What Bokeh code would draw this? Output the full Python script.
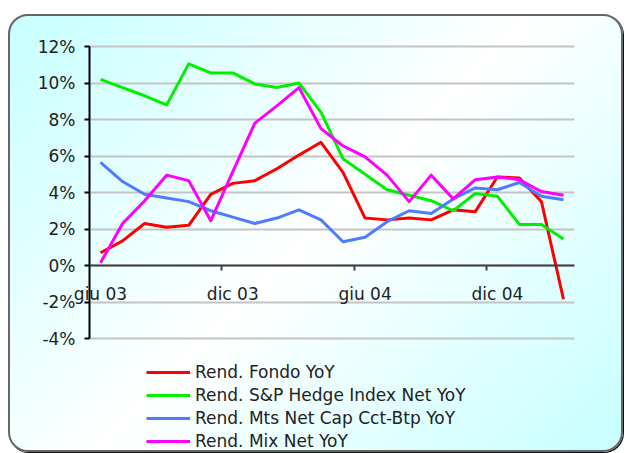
from bokeh.plotting import figure
from bokeh.models import Range1d, LinearAxis, FixedTicker, PrintfTickFormatter, Legend, LegendItem
from bokeh.embed import file_html
from bokeh.resources import INLINE

# ---- data ----
months = ["giu 03", "lug 03", "ago 03", "set 03", "ott 03", "nov 03", "dic 03",
          "gen 04", "feb 04", "mar 04", "apr 04", "mag 04", "giu 04", "lug 04",
          "ago 04", "set 04", "ott 04", "nov 04", "dic 04", "gen 05", "feb 05", "mar 05"]
fondo = [0.7, 1.35, 2.3, 2.1, 2.2, 3.9, 4.5, 4.65, 5.3, 6.05, 6.75, 5.1,
         2.6, 2.5, 2.6, 2.5, 3.05, 2.95, 4.85, 4.8, 3.5, -1.85]
hedge = [10.2, 9.75, 9.3, 8.8, 11.05, 10.55, 10.55, 9.95, 9.75, 10.0, 8.4, 5.85,
         5.0, 4.15, 3.85, 3.55, 3.0, 3.95, 3.8, 2.25, 2.25, 1.45]
mts = [5.65, 4.6, 3.9, 3.7, 3.5, 3.0, 2.65, 2.3, 2.6, 3.05, 2.5, 1.3,
       1.55, 2.4, 3.0, 2.85, 3.65, 4.25, 4.15, 4.55, 3.8, 3.6]
mix = [0.15, 2.3, 3.55, 4.95, 4.65, 2.45, 5.15, 7.8, 8.75, 9.75, 7.5, 6.55,
       5.95, 4.95, 3.5, 4.95, 3.65, 4.7, 4.85, 4.7, 4.05, 3.85]
series_names = ["Rend. Fondo YoY", "Rend. S&P Hedge Index Net YoY",
                "Rend. Mts Net Cap Cct-Btp YoY", "Rend. Mix Net YoY"]
series_colors = ["#ff0000", "#00f000", "#4f7bff", "#ff00ff"]
x_label_idx = [0, 6, 12, 18]
x_labels = ["giu 03", "dic 03", "giu 04", "dic 04"]
y_ticks = [-4, -2, 0, 2, 4, 6, 8, 10, 12]
y_min, y_max = -4, 12

x = list(range(len(months)))
x_lo, x_hi = -0.5, len(months) - 0.5
FONT = "DejaVu Sans"

# ---- layout (pixels) ----
W, H = 611, 434                  # inner canvas of the rounded box
PL, PR, PT, PB = 79, 47, 30, 112  # plot area offsets inside the box
pw, ph = W - PL - PR, H - PT - PB
ux = (x_hi - x_lo) / pw
uy = (y_max - y_min) / ph

p = figure(frame_width=W, frame_height=H,
           min_border=0,
           x_range=Range1d(x_lo - PL * ux, x_hi + PR * ux),
           y_range=Range1d(y_min - PB * uy, y_max + PT * uy),
           output_backend="svg", toolbar_location=None,
           background_fill_color=None, border_fill_color=None, outline_line_color=None,
           x_axis_type=None, y_axis_type=None)
p.xgrid.visible = False
p.ygrid.visible = False
p.styles = {
    "margin-top": "14px",
    "margin-left": "8px",
    "border": "2px solid #666666",
    "border-radius": "20px",
    "box-shadow": "1px 1px 0 #111111",
    "background": "linear-gradient(135deg, #c6ffff 0%, #ffffff 50%, #c6ffff 100%)",
}

# horizontal grid lines (long inward ticks of an unlabeled axis, drawn under the data)
gridax = LinearAxis(fixed_location=x_lo, ticker=FixedTicker(ticks=y_ticks),
                    axis_line_color=None, major_tick_in=pw, major_tick_out=0,
                    major_tick_line_color="#c4c4c4", major_tick_line_width=2,
                    minor_tick_line_color=None, major_label_text_color=None,
                    level="underlay")
p.add_layout(gridax, "left")

# y axis
yax = LinearAxis(fixed_location=x_lo, bounds=(y_min, y_max), ticker=FixedTicker(ticks=y_ticks),
                 formatter=PrintfTickFormatter(format="%d%%"),
                 axis_line_color="#000000", axis_line_width=2,
                 major_tick_line_color="#000000", major_tick_line_width=2,
                 major_tick_in=0, major_tick_out=5, minor_tick_line_color=None,
                 major_label_standoff=9, major_label_text_font=FONT,
                 major_label_text_font_size="17px", major_label_text_color="#222222")
p.add_layout(yax, "left")

# x axis line at 0% with tick marks between the half-year groups
bounds = [i - 0.5 for i in x_label_idx[1:]]
xax_ticks = LinearAxis(fixed_location=0, bounds=(x_lo, x_hi), ticker=FixedTicker(ticks=bounds),
                       axis_line_color="#404040", axis_line_width=2,
                       major_tick_line_color="#404040", major_tick_line_width=2,
                       major_tick_in=0, major_tick_out=5,
                       minor_tick_line_color=None, major_label_text_color=None)
p.add_layout(xax_ticks, "below")

# x labels
xax_lab = LinearAxis(fixed_location=0, ticker=FixedTicker(ticks=x_label_idx),
                     major_label_overrides={i: s for i, s in zip(x_label_idx, x_labels)},
                     axis_line_color=None, major_tick_line_color=None, minor_tick_line_color=None,
                     major_tick_in=0, major_tick_out=0, major_label_standoff=18,
                     major_label_text_font=FONT, major_label_text_font_size="17px",
                     major_label_text_color="#222222")
p.add_layout(xax_lab, "below")

renderers = []
for ys, c in zip([fondo, hedge, mts, mix], series_colors):
    r = p.line(x, ys, line_color=c, line_width=3, line_join="round")
    renderers.append(r)

legend = Legend(items=[LegendItem(label=n, renderers=[r]) for n, r in zip(series_names, renderers)],
                location=(136, -1), orientation="vertical",
                background_fill_alpha=0, border_line_color=None,
                padding=0, margin=0, spacing=3,
                glyph_width=44, glyph_height=20, label_height=20, label_standoff=5,
                label_text_font=FONT, label_text_font_size="17px", label_text_color="#222222")
p.add_layout(legend, "center")

open("out.html", "w").write(file_html(p, INLINE))
